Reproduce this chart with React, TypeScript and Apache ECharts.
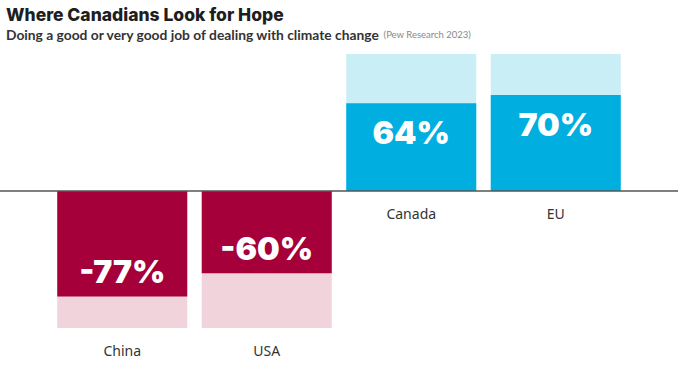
import React, { useEffect, useRef } from "react";
import * as echarts from "echarts";

const categories = ["China", "USA", "Canada", "EU"];
const values = [-77, -60, 64, 70];
const fullScale = [-100, -100, 100, 100];
const darkColors = ["#A6003A", "#A6003A", "#00AEE0", "#00AEE0"];
const lightColors = ["#F0D3DB", "#F0D3DB", "#CAEEF5", "#CAEEF5"];

export default function App() {
  const ref = useRef<HTMLDivElement>(null);
  useEffect(() => {
    if (!ref.current) return;
    const chart = echarts.init(ref.current, null, { renderer: "svg" });
    chart.setOption({
      animation: false,
      title: {
        left: 1,
        top: 0,
        text: "Where Canadians Look for Hope",
        textStyle: { fontFamily: "Inter", fontWeight: 800, fontSize: 17.5, color: "#1e1e1e" },
        subtext:
          "{a|Doing a good or very good job of dealing with climate change} {b|(Pew Research 2023)}",
        itemGap: 4,
        subtextStyle: {
          rich: {
            a: { fontFamily: "Lato", fontWeight: 700, fontSize: 13.8, color: "#333" },
            b: { fontFamily: "Lato", fontSize: 9.5, color: "#888" },
          },
        },
      },
      grid: { left: 50, right: 52, top: 54, bottom: 38 },
      xAxis: {
        type: "category",
        data: categories,
        axisLine: { show: false },
        axisTick: { show: false },
        axisLabel: { show: false },
      },
      yAxis: {
        type: "value",
        min: -100,
        max: 100,
        show: false,
        splitLine: { show: false },
      },
      series: [
        {
          type: "bar",
          barWidth: 130,
          barGap: "-100%",
          data: fullScale.map((v, i) => ({
            value: v,
            itemStyle: { color: lightColors[i] },
          })),
          label: {
            show: true,
            position: "bottom",
            distance: 15,
            formatter: (p: any) => categories[p.dataIndex],
            fontFamily: "Noto Sans",
            fontSize: 14,
            color: "#333",
          },
          silent: true,
        },
        {
          type: "bar",
          barWidth: 130,
          barGap: "-100%",
          data: values.map((v, i) => ({
            value: v,
            itemStyle: { color: darkColors[i] },
            label: {
              position: v < 0 ? "insideBottom" : "insideTop",
              distance: v < 0 ? 9 : 13,
            },
          })),
          label: {
            show: true,
            formatter: (p: any) => p.value + "%",
            fontFamily: "Inter",
            fontWeight: 900,
            fontSize: 32,
            color: "#fff",
          },
        },
      ],
    });
    const y0 = chart.convertToPixel({ yAxisIndex: 0 }, 0) as number;
    chart.setOption({
      graphic: [
        {
          type: "line",
          shape: { x1: 0, y1: y0, x2: 678, y2: y0 },
          style: { stroke: "#555", lineWidth: 1.5 },
          z: 10,
        },
      ],
    });
    return () => chart.dispose();
  }, []);
  return <div ref={ref} style={{ width: 680, height: 366, position: "absolute", left: 0, top: 0 }} />;
}
